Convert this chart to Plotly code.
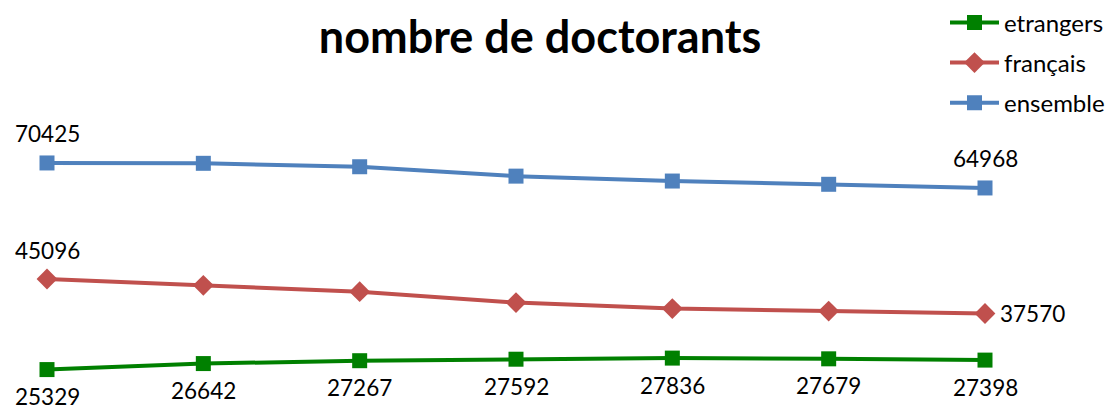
import plotly.graph_objects as go

# ---- data ----
points = [1, 2, 3, 4, 5, 6, 7]
etrangers = [25329, 26642, 27267, 27592, 27836, 27679, 27398]
francais = [45096, 43710, 42330, 39958, 38644, 38091, 37570]
ensemble = [70425, 70350, 69600, 67550, 66480, 65770, 64968]

series_names = ["etrangers", "français", "ensemble"]
series_values = [etrangers, francais, ensemble]
series_colors = ["#008000", "#C0504D", "#4F81BD"]
series_symbols = ["square", "diamond", "square"]
# which point indices get a label, and where
label_spec = {
    "etrangers": [(i, "below") for i in range(7)],
    "français": [(0, "above"), (6, "right")],
    "ensemble": [(0, "above"), (6, "above")],
}

FONT = "Lato"
W, H = 1106, 403  # page body adds an 8px margin

fig = go.Figure()
for name, vals, col, sym in zip(series_names, series_values, series_colors, series_symbols):
    fig.add_trace(go.Scatter(
        x=points, y=vals, name=name, mode="lines+markers",
        line=dict(color=col, width=4),
        marker=dict(symbol=sym, size=15 if sym == "square" else 16, color=col),
        cliponaxis=False, legendgroup=name, hoverinfo="skip",
    ))

annotations = []
for name, vals in zip(series_names, series_values):
    for idx, where in label_spec[name]:
        a = dict(x=points[idx], y=vals[idx], xref="x", yref="y",
                 text=str(vals[idx]), showarrow=False,
                 font=dict(family=FONT, size=22.5, color="#000000"))
        if where == "above":
            a.update(yshift=29)
        elif where == "below":
            a.update(yshift=-27)
        else:
            a.update(xanchor="left", xshift=13)
        annotations.append(a)

ml, mr, mt, mb = 39, 129, 134, 16.5
pw, ph = W - ml - mr, H - mt - mb
fig.update_layout(
    width=W, height=H,
    paper_bgcolor="white", plot_bgcolor="white",
    margin=dict(l=ml, r=mr, t=mt, b=mb, autoexpand=False),
    font=dict(family=FONT, size=20, color="#000000"),
    title=dict(text="<b>nombre de doctorants</b>", xref="container", yref="container",
               x=532 / W, y=1 - 29 / H, xanchor="center", yanchor="middle",
               font=dict(family=FONT, size=45, color="#000000")),
    xaxis=dict(range=[1, 7], visible=False, fixedrange=True),
    yaxis=dict(range=[20000, 75000], visible=False, fixedrange=True),
    legend=dict(x=(937 - ml) / pw, y=(H - mb + 8) / ph, xref="paper", yref="paper",
                xanchor="left", yanchor="top",
                traceorder="grouped", tracegroupgap=6, itemwidth=49,
                font=dict(family=FONT, size=24), bgcolor="rgba(0,0,0,0)"),
    annotations=annotations,
    showlegend=True,
)
fig.write_html("out.html")
